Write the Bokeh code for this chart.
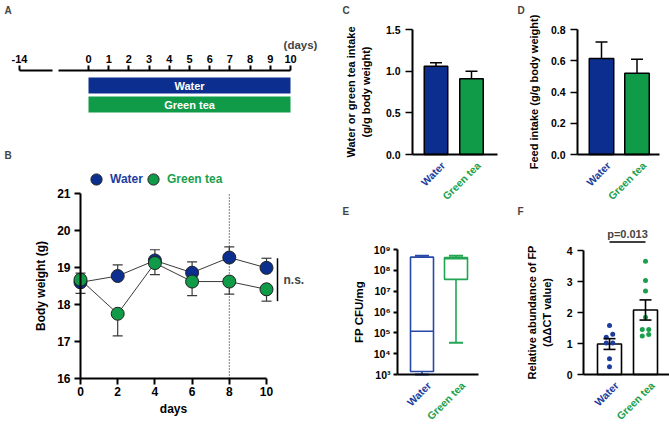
import math
import numpy as np
from bokeh.plotting import figure
from bokeh.layouts import row, column
from bokeh.models import (LinearAxis, LogAxis, LogScale, FixedTicker, CustomJSTickFormatter,
                          Label, Legend, LegendItem, Range1d)
from bokeh.core.properties import value
from bokeh.embed import file_html
from bokeh.resources import INLINE

# ---------------- data ----------------
groups = ["Water", "Green tea"]
timeline_days = list(range(0, 11))
timeline_start_day = -14

bw_days = [0, 2, 4, 6, 8, 10]
bw_ticks = [16, 17, 18, 19, 20, 21]
bw_water = [18.60, 18.77, 19.19, 18.86, 19.27, 18.99]
bw_water_err = [0.25, 0.30, 0.29, 0.29, 0.29, 0.26]
bw_green = [18.67, 17.75, 19.12, 18.62, 18.62, 18.41]
bw_green_err = [0.37, 0.60, 0.31, 0.38, 0.34, 0.32]
cutoff_day = 8
bw_stat = "n.s."

drink_mean = [1.06, 0.91]
drink_sem = [0.04, 0.09]
drink_ticks = [0.0, 0.5, 1.0, 1.5]

feed_mean = [0.615, 0.52]
feed_sem = [0.105, 0.09]
feed_ticks = [0.0, 0.2, 0.4, 0.6, 0.8]

cfu_min = [1.0e3, 3.3e4]
cfu_q1 = [1.4e3, 3.7e7]
cfu_med = [1.2e5, 3.6e8]
cfu_q3 = [4.3e8, 4.1e8]
cfu_max = [5.0e8, 5.0e8]
cfu_ticks = [1e3, 1e4, 1e5, 1e6, 1e7, 1e8, 1e9]

ddct_water = [1.58, 1.30, 1.20, 1.02, 1.02, 0.51, 0.25]
ddct_green = [3.65, 3.03, 2.69, 1.85, 1.45, 1.45, 1.29, 1.24]
ddct_ticks = [0, 1, 2, 3, 4]
p_text = "p=0.013"

# ---------------- style ----------------
FONT = "Liberation Sans"
BLUE = "#0c2f8f"
GREEN = "#0f9b48"
BLUE_T = "#1c3d9e"
GREEN_T = "#1aa04c"
BLUE_BOX = "#2748a8"
GREEN_BOX = "#22a552"
LABEL_ANGLE = math.pi / 4
xs = [0, 1]


class Geo:
    """Maps page pixels of the panel to data values (panel frame = whole figure)."""

    def __init__(self, ox, oy, W, H, xa, pxa, xb, pxb, ya, pya, yb, pyb, log=False):
        self.ox, self.oy, self.W, self.H, self.log = ox, oy, W, H, log
        self.sx = (pxb - pxa) / (xb - xa)
        self.x0 = xa - (pxa - ox) / self.sx
        f = math.log10 if log else (lambda v: v)
        self.sy = (pya - pyb) / (f(yb) - f(ya))
        self.ytop = f(ya) + (pya - oy) / self.sy

    def x(self, px):
        return self.x0 + (px - self.ox) / self.sx

    def y(self, py):
        v = self.ytop - (py - self.oy) / self.sy
        return 10 ** v if self.log else v

    def w(self, pw):
        return pw / self.sx

    def fig(self):
        p = figure(width=self.W, height=self.H, title=None,
                   x_range=Range1d(self.x(self.ox), self.x(self.ox + self.W)),
                   y_range=Range1d(self.y(self.oy + self.H), self.y(self.oy)),
                   x_axis_location=None, y_axis_location=None,
                   toolbar_location=None, output_backend="svg", min_border=0)
        if self.log:
            p.y_scale = LogScale()
        p.grid.visible = False
        p.outline_line_color = None
        return p

    def letter(self, p, txt, px, py):
        p.add_layout(mk_label(x=px - self.ox, y=self.H - (py - self.oy), x_units="screen",
                              y_units="screen", text=txt, text_font_size="10px"))


def style_axis(ax, size="11px", label_size=None, tick=5, width=2):
    ax.axis_line_width = width
    ax.axis_line_color = "black"
    ax.major_tick_line_width = width
    ax.major_tick_out = tick
    ax.major_tick_in = 0
    ax.minor_tick_line_color = None
    ax.major_label_text_font = FONT
    ax.major_label_text_font_style = "bold"
    ax.major_label_text_font_size = size
    ax.major_label_text_color = "black"
    ax.axis_label_text_font = FONT
    ax.axis_label_text_font_style = "bold"
    ax.axis_label_text_font_size = label_size or size
    ax.axis_label_text_color = "black"
    return ax


def mk_label(**kw):
    base = dict(text_font=FONT, text_font_style="bold", text_font_size="11px",
                text_baseline="middle", text_align="left")
    base.update(kw)
    return Label(**base)


cat_fmt = CustomJSTickFormatter(args=dict(c=groups), code="return c[Math.round(tick)];")


def cat_axes(g, p, fixed_y, x_start, x_end, size="10.5px"):
    shift = g.w(7)   # rotated labels end slightly right of the bar centre
    for i, col in enumerate([BLUE_T, GREEN_T]):
        a = style_axis(LinearAxis(ticker=FixedTicker(ticks=[xs[i] + shift]), formatter=cat_fmt,
                                  fixed_location=fixed_y, bounds=(x_start, x_end)), size)
        if i > 0:
            a.axis_line_color = None
        a.major_tick_line_color = None
        a.major_label_orientation = LABEL_ANGLE
        a.major_label_text_color = col
        a.major_label_standoff = 4
        p.add_layout(a, "below")


# ---------------- A: timeline ----------------
gA = Geo(0, 0, 320, 120, 0, 88, 10, 290, 0, 104, 1, 85)
pa = gA.fig()
axis_row = gA.y(70)
ax_main = style_axis(LinearAxis(ticker=FixedTicker(ticks=timeline_days), fixed_location=axis_row,
                                bounds=(gA.x(58), timeline_days[-1])), tick=5)
ax_main.major_label_standoff = 3
pa.add_layout(ax_main, "above")
start_pos = gA.x(19)
ax_start = style_axis(LinearAxis(ticker=FixedTicker(ticks=[start_pos]), fixed_location=axis_row,
                                 bounds=(start_pos, gA.x(52)),
                                 formatter=CustomJSTickFormatter(args=dict(lab=str(timeline_start_day)),
                                                                 code="return lab;")), tick=5)
ax_start.major_label_standoff = 3
pa.add_layout(ax_start, "above")
rows = [1, 0]
pa.hbar(y=rows, left=timeline_days[0], right=timeline_days[-1], height=16 / gA.sy,
        fill_color=[BLUE, GREEN], line_color=None)
pa.text(x=[(timeline_days[0] + timeline_days[-1]) / 2] * 2, y=rows, text=groups,
        text_color="white", text_font=value(FONT), text_font_style="bold",
        text_font_size="11px", text_align="center", text_baseline="middle")
pa.add_layout(mk_label(x=gA.x(300), y=gA.y(44), text="(days)", text_align="center",
                       text_font_size="11.5px"))
gA.letter(pa, "A", 4, 10)

# ---------------- B: body weight ----------------
gB = Geo(0, 120, 320, 304, 0, 80, 10, 266, 16, 378, 21, 193)
pb = gB.fig()
ay = style_axis(LinearAxis(ticker=FixedTicker(ticks=bw_ticks), fixed_location=bw_days[0],
                           bounds=(bw_ticks[0], bw_ticks[-1]), axis_label="Body weight (g)"),
                "12px", tick=6)
ay.major_label_standoff = 4
ay.axis_label_standoff = 6
pb.add_layout(ay, "left")
ax = style_axis(LinearAxis(ticker=FixedTicker(ticks=bw_days), fixed_location=bw_ticks[0],
                           bounds=(bw_days[0], bw_days[-1]), axis_label="days"), "12px", tick=6)
ax.major_label_standoff = 2
ax.axis_label_standoff = 3
pb.add_layout(ax, "below")

pb.segment(x0=[cutoff_day], y0=[bw_ticks[0]], x1=[cutoff_day], y1=[bw_ticks[-1]],
           line_color="black", line_width=1, line_dash="1 2")
LINE = "#3a3a3a"
pb.line(bw_days, bw_water, line_color=LINE, line_width=1)
pb.line(bw_days, bw_green, line_color=LINE, line_width=1)
w_up = [v + e for v, e in zip(bw_water, bw_water_err)]
g_dn = [v - e for v, e in zip(bw_green, bw_green_err)]
cap = gB.w(5)
pb.segment(x0=bw_days, y0=bw_water, x1=bw_days, y1=w_up, line_color=LINE, line_width=1.2)
pb.segment(x0=[d - cap for d in bw_days], y0=w_up, x1=[d + cap for d in bw_days], y1=w_up,
           line_color=LINE, line_width=1.2)
pb.segment(x0=bw_days, y0=bw_green, x1=bw_days, y1=g_dn, line_color=LINE, line_width=1.2)
pb.segment(x0=[d - cap for d in bw_days], y0=g_dn, x1=[d + cap for d in bw_days], y1=g_dn,
           line_color=LINE, line_width=1.2)
rw = pb.scatter(bw_days, bw_water, size=13, fill_color=BLUE, line_color="#222222", line_width=1)
rg = pb.scatter(bw_days, bw_green, size=13, fill_color=GREEN, line_color="#222222", line_width=1)
xb = gB.x(277)
pb.segment(x0=[xb], y0=[g_dn[-1]], x1=[xb], y1=[w_up[-1]], line_color="black", line_width=1.5)
pb.add_layout(mk_label(x=gB.x(283), y=(g_dn[-1] + w_up[-1]) / 2, text=bw_stat, text_font_size="12px"))
for lab, rend, col, cx in [(groups[0], rw, BLUE_T, 96), (groups[1], rg, GREEN_T, 153)]:
    lg = Legend(items=[LegendItem(label=lab, renderers=[rend])],
                location=(cx - 14 - gB.ox, gB.H - (179 + 14 - gB.oy)),
                border_line_color=None, background_fill_alpha=0, padding=0, margin=0,
                glyph_width=28, glyph_height=28, label_standoff=-7,
                label_text_font=FONT, label_text_font_style="bold", label_text_font_size="12px",
                label_text_color=col)
    pb.add_layout(lg)
gB.letter(pb, "B", 4, 155)

# ---------------- C: drink intake ----------------
gC = Geo(320, 0, 180, 205, 0, 435.5, 1, 471, 0, 154, 1.5, 29)
pc = gC.fig()
cy = style_axis(LinearAxis(ticker=FixedTicker(ticks=drink_ticks), fixed_location=gC.x(412),
                           bounds=(drink_ticks[0], drink_ticks[-1]),
                           formatter=CustomJSTickFormatter(code="return tick.toFixed(1);"),
                           axis_label="Water or green tea intake\n(g/g body weight)"),
                "10.5px", "11px", tick=7)
cy.major_tick_line_width = 1.5
cy.major_label_standoff = 5
cy.axis_label_standoff = 11
pc.add_layout(cy, "left")
cat_axes(gC, pc, 0, gC.x(412), gC.x(497))
pc.vbar(x=xs, top=drink_mean, width=gC.w(23.5), fill_color=[BLUE, GREEN], line_color="black", line_width=1.5)
c_up = [m + s for m, s in zip(drink_mean, drink_sem)]
pc.segment(x0=xs, y0=drink_mean, x1=xs, y1=c_up, line_color="black", line_width=1.5)
pc.segment(x0=[x - gC.w(6) for x in xs], y0=c_up, x1=[x + gC.w(6) for x in xs], y1=c_up,
           line_color="black", line_width=1.5)
gC.letter(pc, "C", 342, 10)

# ---------------- D: feed intake ----------------
gD = Geo(500, 0, 169, 205, 0, 601, 1, 636.5, 0, 154, 0.8, 29)
pd_ = gD.fig()
dy = style_axis(LinearAxis(ticker=FixedTicker(ticks=feed_ticks), fixed_location=gD.x(577),
                           bounds=(feed_ticks[0], feed_ticks[-1]),
                           formatter=CustomJSTickFormatter(code="return tick.toFixed(1);"),
                           axis_label="Feed intake (g/g body weight)"), "10.5px", "11px", tick=7)
dy.major_tick_line_width = 1.5
dy.major_label_standoff = 5
dy.axis_label_standoff = 8
pd_.add_layout(dy, "left")
cat_axes(gD, pd_, 0, gD.x(577), gD.x(659))
pd_.vbar(x=xs, top=feed_mean, width=gD.w(24.5), fill_color=[BLUE, GREEN], line_color="black", line_width=1.5)
d_up = [m + s for m, s in zip(feed_mean, feed_sem)]
pd_.segment(x0=xs, y0=feed_mean, x1=xs, y1=d_up, line_color="black", line_width=1.5)
pd_.segment(x0=[x - gD.w(6) for x in xs], y0=d_up, x1=[x + gD.w(6) for x in xs], y1=d_up,
            line_color="black", line_width=1.5)
gD.letter(pd_, "D", 517, 10)

# ---------------- E: FP CFU box plot ----------------
gE = Geo(320, 205, 180, 219, 0, 421.5, 1, 455.5, 1e3, 374, 1e9, 249, log=True)
pe = gE.fig()
sup = {"0": "\u2070", "1": "\u00b9", "2": "\u00b2", "3": "\u00b3", "4": "\u2074",
       "5": "\u2075", "6": "\u2076", "7": "\u2077", "8": "\u2078", "9": "\u2079", "-": "\u207b"}
ey = style_axis(LogAxis(ticker=FixedTicker(ticks=cfu_ticks), fixed_location=gE.x(397),
                        bounds=(cfu_ticks[0], cfu_ticks[-1]),
                        formatter=CustomJSTickFormatter(args=dict(sup=sup), code="""
const e = Math.round(Math.log10(tick));
return "10" + String(e).split("").map(d => sup[d]).join("");"""),
                        axis_label="FP CFU/mg"), "10.5px", "11.5px", tick=4)
ey.major_label_standoff = 3
ey.axis_label_standoff = 6
pe.add_layout(ey, "left")
cat_axes(gE, pe, cfu_ticks[0], gE.x(397), gE.x(478))
box_cols = [BLUE_BOX, GREEN_BOX]
bxw = gE.w(23)
pe.vbar(x=xs, bottom=cfu_q1, top=cfu_q3, width=bxw, fill_color="white", line_color=box_cols, line_width=1.6)
pe.segment(x0=[x - bxw / 2 for x in xs], y0=cfu_med, x1=[x + bxw / 2 for x in xs], y1=cfu_med,
           line_color=box_cols, line_width=1.6)
pe.segment(x0=xs, y0=cfu_q3, x1=xs, y1=cfu_max, line_color=box_cols, line_width=1.6)
pe.segment(x0=xs, y0=cfu_q1, x1=xs, y1=cfu_min, line_color=box_cols, line_width=1.6)
ecap = gE.w(7)
pe.segment(x0=[x - ecap for x in xs], y0=cfu_max, x1=[x + ecap for x in xs], y1=cfu_max,
           line_color=box_cols, line_width=2)
pe.segment(x0=[x - ecap for x in xs], y0=cfu_min, x1=[x + ecap for x in xs], y1=cfu_min,
           line_color=box_cols, line_width=2)
gE.letter(pe, "E", 342, 211)

# ---------------- F: relative abundance ----------------
gF = Geo(500, 205, 169, 219, 0, 609, 1, 645, 0, 374, 4, 250)
pf = gF.fig()
fy = style_axis(LinearAxis(ticker=FixedTicker(ticks=ddct_ticks), fixed_location=gF.x(583),
                           bounds=(ddct_ticks[0], ddct_ticks[-1]),
                           axis_label="Relative abundance of FP\n(\u0394\u0394CT value)"),
                "10.5px", "11px", tick=6)
fy.major_tick_line_width = 1.5
fy.major_label_standoff = 5
fy.axis_label_standoff = 11
pf.add_layout(fy, "left")
cat_axes(gF, pf, 0, gF.x(583), gF.x(669))


def swarm(vals, thresh=0.12, step=0.18):
    offs = [0.0] * len(vals)
    order = sorted(range(len(vals)), key=lambda i: vals[i])
    grp = []
    for i in order:
        if grp and abs(vals[i] - vals[grp[-1][-1]]) < thresh:
            grp[-1].append(i)
        else:
            grp.append([i])
    for g in grp:
        n = len(g)
        for k, i in enumerate(g):
            offs[i] = (k - (n - 1) / 2) * step
    return offs


means = [float(np.mean(ddct_water)), float(np.mean(ddct_green))]
sems = [float(np.std(v, ddof=1) / np.sqrt(len(v))) for v in (ddct_water, ddct_green)]
pf.vbar(x=xs, top=means, width=gF.w(24), fill_color="white", line_color="black", line_width=1.6)
for x, vals, col in [(xs[0], ddct_water, BLUE_T), (xs[1], ddct_green, GREEN_T)]:
    pf.scatter([x + o for o in swarm(vals)], vals, size=5, fill_color=col, line_color=None)
lo = [m - s for m, s in zip(means, sems)]
hi = [m + s for m, s in zip(means, sems)]
pf.segment(x0=xs, y0=lo, x1=xs, y1=hi, line_color="black", line_width=1.6)
fcap = gF.w(6)
pf.segment(x0=[x - fcap for x in xs], y0=hi, x1=[x + fcap for x in xs], y1=hi, line_color="black", line_width=1.6)
pf.segment(x0=[x - fcap for x in xs], y0=lo, x1=[x + fcap for x in xs], y1=lo, line_color="black", line_width=1.6)
yb = gF.y(241.5)
pf.segment(x0=[xs[0]], y0=[yb], x1=[xs[1]], y1=[yb], line_color="black", line_width=1.5)
pf.add_layout(mk_label(x=(xs[0] + xs[1]) / 2, y=gF.y(233), text=p_text, text_align="center"))
gF.letter(pf, "F", 517, 211)

layout = row(column(pa, pb), column(row(pc, pd_), row(pe, pf)))
with open("out.html", "w", encoding="utf-8") as f:
    f.write(file_html(layout, INLINE))
